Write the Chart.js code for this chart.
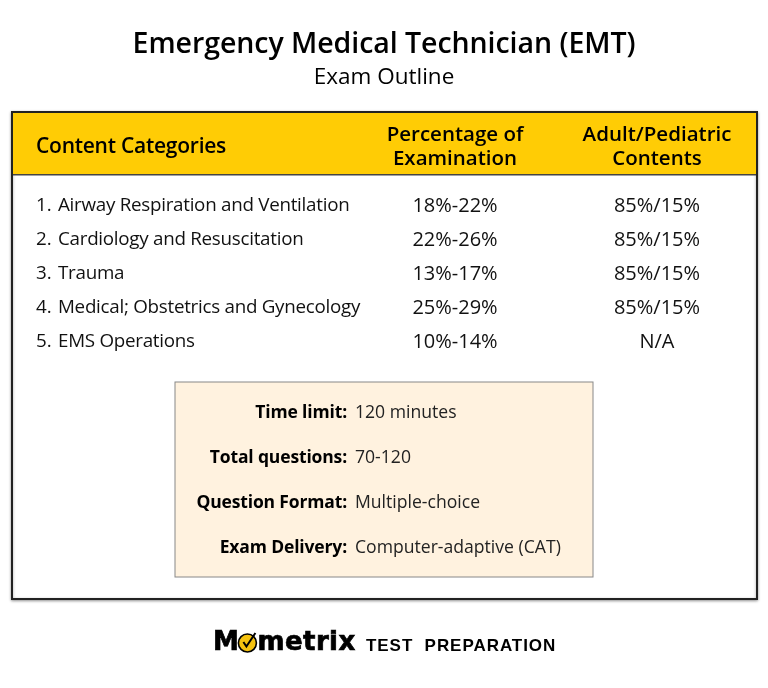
<!DOCTYPE html>
<html><head><meta charset="utf-8">
<style>html,body{margin:0;padding:0;background:#fff}#w{width:768px;height:688px;position:relative}</style>
<script src="https://cdn.jsdelivr.net/npm/chart.js@4"></script>
</head><body><div id="w"><canvas id="c" width="768" height="688"></canvas></div>
<script>
const titleText = "Emergency Medical Technician (EMT)";
const subtitleText = "Exam Outline";
const headerCategories = "Content Categories";
const headerPercentage = ["Percentage of", "Examination"];
const headerAdult = ["Adult/Pediatric", "Contents"];
const rowNumbers = ["1.", "2.", "3.", "4.", "5."];
const categories = ["Airway Respiration and Ventilation", "Cardiology and Resuscitation", "Trauma", "Medical; Obstetrics and Gynecology", "EMS Operations"];
const percentages = ["18%-22%", "22%-26%", "13%-17%", "25%-29%", "10%-14%"];
const adultPediatric = ["85%/15%", "85%/15%", "85%/15%", "85%/15%", "N/A"];
const detailLabels = ["Time limit:", "Total questions:", "Question Format:", "Exam Delivery:"];
const detailValues = ["120 minutes", "70-120", "Multiple-choice", "Computer-adaptive (CAT)"];
const brandName = "Mometrix";
const brandTag = "TEST  PREPARATION";

const F = '"Open Sans", sans-serif';
const layoutPlugin = {
  id: 'layoutPlugin',
  afterDraw(chart) {
    const ctx = chart.ctx, X = v => chart.scales.x.getPixelForValue(v), Y = v => chart.scales.y.getPixelForValue(v);
    const text = (s, x, y, font, align, color, ls) => {
      ctx.font = font; ctx.textAlign = align || 'left'; ctx.textBaseline = 'middle';
      ctx.fillStyle = color || '#000'; ctx.letterSpacing = (ls || 0) + 'px';
      ctx.fillText(s, X(x), Y(y)); ctx.letterSpacing = '0px';
    };
    const rect = (x0, y0, x1, y1, fill, stroke, lw) => {
      if (fill) { ctx.fillStyle = fill; ctx.fillRect(X(x0), Y(y0), X(x1) - X(x0), Y(y1) - Y(y0)); }
      if (stroke) { ctx.strokeStyle = stroke; ctx.lineWidth = lw; ctx.strokeRect(X(x0), Y(y0), X(x1) - X(x0), Y(y1) - Y(y0)); }
    };
    ctx.save();
    text(titleText, 384, 45, `600 28.5px ${F}`, 'center', '#000', -0.05);
    text(subtitleText, 384, 77.5, `400 22.5px ${F}`, 'center', '#000', 0);

    ctx.save(); ctx.shadowColor = 'rgba(0,0,0,.35)'; ctx.shadowBlur = 3; ctx.shadowOffsetY = 1;
    rect(12, 112, 757, 599, '#fff', '#222', 2); ctx.restore();
    rect(13, 113, 756, 174, '#FFCC05');
    rect(13, 174, 756, 175.5, '#444');

    text(headerCategories, 36, 147, `600 21px ${F}`, 'left', '#000', -0.25);
    headerPercentage.forEach((s, i) => text(s, 455, 135 + i * 24, `600 20.5px ${F}`, 'center', '#000', 0));
    headerAdult.forEach((s, i) => text(s, 657, 135 + i * 24, `600 20.5px ${F}`, 'center', '#000', 0));

    categories.forEach((s, i) => {
      const y = chart.getDatasetMeta(0).data[i];
      const yv = chart.scales.y.getValueForPixel(y.y);
      text(rowNumbers[i], 36, yv, `400 18.8px ${F}`, 'left', '#111', 0);
      text(s, 58, yv, `400 18.8px ${F}`, 'left', '#111', -0.27);
      text(percentages[i], 455, yv, `400 20px ${F}`, 'center', '#111', 0);
      text(adultPediatric[i], 657, yv, `400 20px ${F}`, 'center', '#111', 0);
    });

    rect(175, 382, 593, 577, '#FFF2DF', '#888', 1);
    detailLabels.forEach((s, i) => {
      const y = chart.getDatasetMeta(1).data[i];
      const yv = chart.scales.y.getValueForPixel(y.y);
      text(s, 347, yv, `700 17.5px ${F}`, 'right', '#000', -0.15);
      text(detailValues[i], 355, yv, `400 17.6px ${F}`, 'left', '#222', 0);
    });

    // brand line
    const bold = `bold 26px "DejaVu Sans", sans-serif`;
    ctx.font = bold; ctx.letterSpacing = '0.4px';
    const mW = ctx.measureText('M').width, oW = ctx.measureText('o').width;
    ctx.letterSpacing = '0px';
    text(brandName, 213, 643.5, bold, 'left', '#000', 0.4);
    ctx.font = bold; ctx.letterSpacing = '0.4px'; ctx.strokeStyle = '#000'; ctx.lineWidth = 0.7;
    ctx.strokeText(brandName, X(213), Y(643.5)); ctx.letterSpacing = '0px';
    const cx = X(213) + mW + oW / 2 - 1, cy = Y(643), r = 9;
    ctx.beginPath(); ctx.arc(cx, cy, r, 0, Math.PI * 2); ctx.fillStyle = '#F5C20F'; ctx.fill();
    ctx.lineWidth = 1.6; ctx.strokeStyle = '#000'; ctx.stroke();
    ctx.beginPath(); ctx.moveTo(cx - 4, cy - 1); ctx.lineTo(cx - 1, cy + 3.5); ctx.lineTo(cx + 8, cy - 10);
    ctx.lineWidth = 2; ctx.stroke();
    text(brandTag, 366, 646, `bold 17px "Liberation Sans", sans-serif`, 'left', '#000', 0.95);
    ctx.restore();
  }
};

new Chart(document.getElementById('c'), {
  type: 'scatter',
  data: { datasets: [
    { label: 'Content rows', data: categories.map((_, i) => ({ x: 36, y: 206 + i * 34 })), pointRadius: 0 },
    { label: 'Exam details', data: detailLabels.map((_, i) => ({ x: 347, y: 413 + i * 45 })), pointRadius: 0 }
  ] },
  options: {
    responsive: false, animation: false, events: [],
    layout: { padding: 0 },
    plugins: { legend: { display: false }, tooltip: { enabled: false }, title: { display: false } },
    scales: {
      x: { type: 'linear', min: 0, max: 768, display: false },
      y: { type: 'linear', min: 0, max: 688, reverse: true, display: false }
    }
  },
  plugins: [layoutPlugin]
});
</script></body></html>
